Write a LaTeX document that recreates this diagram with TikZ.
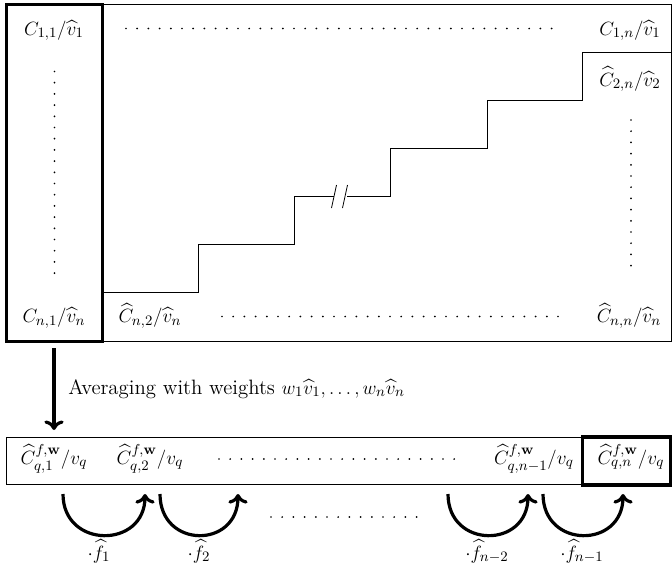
\documentclass[tikz,border=0pt]{standalone}
\usepackage{amsmath,amssymb}
\usetikzlibrary{arrows.meta}
\begin{document}
\begin{tikzpicture}[x=0.625pt,y=-0.625pt,
  font=\fontsize{13}{15}\selectfont,
  thin line/.style={line width=0.5pt},
  thick line/.style={line width=2pt},
  bigarrow/.style={line width=2pt,-{To[length=6pt,width=12pt,line width=2pt]}},
  dotrow/.style={line width=1.2pt,line cap=round,dash pattern=on 0pt off 7pt},
  lbl/.style={anchor=base,inner sep=0pt}]
\useasboundingbox (0,0) rectangle (672,569);
% top block
\draw[thin line] (5,4.5) rectangle (671.5,341);
\draw[thick line] (6.5,4.5) rectangle (102.5,341.5);
% staircase
\coordinate (s0) at (102.5,292.5);
\coordinate (b1) at (334,196);
\coordinate (b2) at (347,196);
\coordinate (s9) at (671.5,52.5);
\draw[thin line] (s0) -| (198,244.5) -| (294,196.5) -- (b1 |- 0,196.5);
\draw[thin line] (b2 |- 0,196.5) -| (390,148.5) -| (487,100.5) -| (582,52.5) -- (s9);
\draw[thin line] (331.5,208) -- (336.5,185);
\draw[thin line] (342.5,208) -- (347.5,185);
% labels top
\node[lbl] (c11) at (54,35) {$C_{1,1}/\widehat{v}_1$};
\node[lbl] (c1n) at (630,35) {$C_{1,n}/\widehat{v}_1$};
\node[lbl] (c2n) at (630,86) {$\widehat{C}_{2,n}/\widehat{v}_2$};
\node[lbl] (cn1) at (54,322.5) {$C_{n,1}/\widehat{v}_n$};
\node[lbl] (cn2) at (150,322.5) {$\widehat{C}_{n,2}/\widehat{v}_n$};
\node[lbl] (cnn) at (629,322.5) {$\widehat{C}_{n,n}/\widehat{v}_n$};
% dots
\draw[dotrow] (126,28.5) -- (562,28.5);
\draw[dotrow] (54.5,71.5) -- (54.5,275);
\draw[dotrow] (631,120) -- (631,275);
\draw[dotrow] (222,316.5) -- (562,316.5);
% down arrow
\coordinate (at) at (54,348);
\coordinate (ab) at (54,430);
\draw[bigarrow] (at) -- (ab);
\node[anchor=base west,inner sep=0pt] (avg) at (68,394) {Averaging with weights $w_1\widehat{v}_1,\dots,w_n\widehat{v}_n$};
% bottom block
\draw[thin line] (6,437) rectangle (671.5,484.5);
\draw[thick line] (582.5,437) rectangle (670.5,485);
\node[lbl] (q1) at (54,464) {$\widehat{C}^{f,\mathbf{w}}_{q,1}/v_q$};
\node[lbl] (q2) at (150,464) {$\widehat{C}^{f,\mathbf{w}}_{q,2}/v_q$};
\node[lbl] (qn1) at (534,464) {$\widehat{C}^{f,\mathbf{w}}_{q,n-1}/v_q$};
\node[lbl] (qn) at (631,464) {$\widehat{C}^{f,\mathbf{w}}_{q,n}/v_q$};
\draw[dotrow] (219,459) -- (465,459);
\draw[dotrow] (271,517) -- (417,517);
% curved arrows
\foreach \i/\a/\b in {1/63/145,2/160/238,3/448/528,4/543/623}{
  \coordinate (cs\i) at (\a,494);
  \coordinate (ce\i) at (\b,494);
  \draw[bigarrow] (cs\i) .. controls (\a,549) and (\b,549) .. (ce\i);
}
\node[lbl] (f1) at (99,559) {$\cdot\widehat{f}_1$};
\node[lbl] (f2) at (199,559) {$\cdot\widehat{f}_2$};
\node[lbl] (f3) at (487,559) {$\cdot\widehat{f}_{n-2}$};
\node[lbl] (f4) at (582,559) {$\cdot\widehat{f}_{n-1}$};
\end{tikzpicture}
\end{document}
